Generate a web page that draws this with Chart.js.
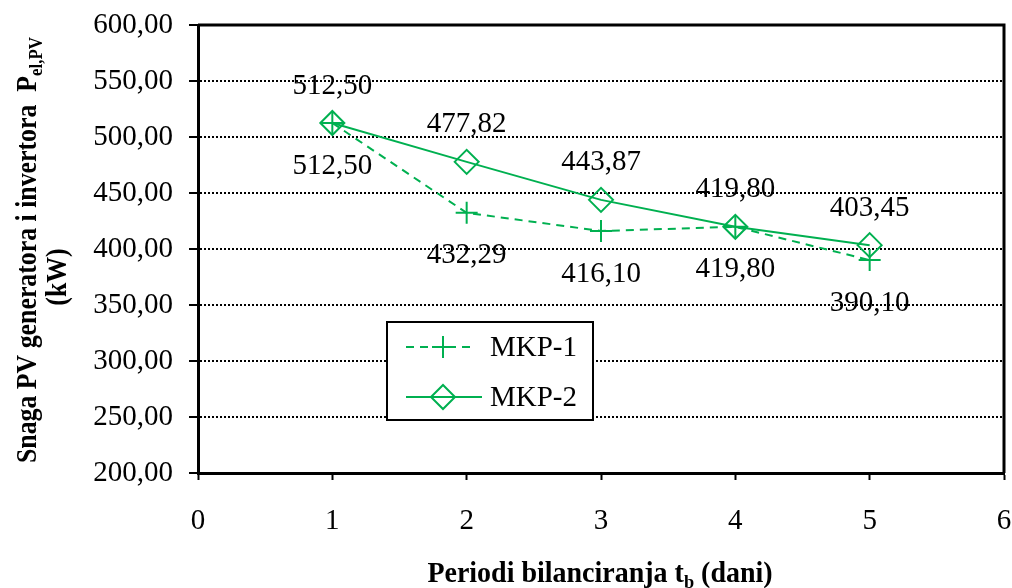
<!DOCTYPE html>
<html>
<head>
<meta charset="utf-8">
<script src="https://cdn.jsdelivr.net/npm/chart.js@4/dist/chart.umd.min.js"></script>
<style>
  html, body { margin: 0; padding: 0; background: #fff; }
  #wrap { width: 1012px; height: 588px; }
</style>
</head>
<body>
<div id="wrap"><canvas id="chart" width="1012" height="588"></canvas></div>
<script>
// podaci
const periods = [1, 2, 3, 4, 5];
const mkp1 = [512.50, 432.29, 416.10, 419.80, 390.10];
const mkp2 = [512.50, 477.82, 443.87, 419.80, 403.45];
const seriesNames = ['MKP-1', 'MKP-2'];
const yTicks = [200, 250, 300, 350, 400, 450, 500, 550, 600];

const GREEN = '#00B050';
const FONT = "'Liberation Serif', 'Times New Roman', serif";
const FS = 29;

const fmt = v => v.toFixed(2).replace('.', ',');

// oznake vrijednosti: MKP-1 ispod, MKP-2 iznad točke
const valueLabels = {
    id: 'valueLabels',
    afterDatasetsDraw(chart) {
        const ctx = chart.ctx;
        ctx.save();
        ctx.font = FS + 'px ' + FONT;
        ctx.fillStyle = '#000';
        ctx.textAlign = 'center';
        ctx.textBaseline = 'middle';
        chart.data.datasets.forEach((ds, i) => {
            const meta = chart.getDatasetMeta(i);
            meta.data.forEach((pt, j) => {
                const off = i === 0 ? 43 : -37;
                ctx.fillText(fmt(ds.data[j].y), pt.x, pt.y + off);
            });
        });
        ctx.restore();
    }
};

// okvir, legenda i naslovi osi (sa indeksima)
const frame = {
    id: 'frame',
    beforeDatasetsDraw(chart) {
        const a = chart.chartArea;
        const ctx = chart.ctx;
        ctx.save();
        ctx.strokeStyle = '#000';
        ctx.lineWidth = 3;
        ctx.beginPath();
        ctx.moveTo(a.left, a.top);
        ctx.lineTo(a.right, a.top);
        ctx.lineTo(a.right, a.bottom);
        ctx.stroke();
        ctx.restore();
    },
    afterDraw(chart) {
        const ctx = chart.ctx;
        ctx.save();

        // legenda
        ctx.fillStyle = '#fff';
        ctx.fillRect(387, 322, 206, 98);
        ctx.strokeStyle = '#000';
        ctx.lineWidth = 2;
        ctx.strokeRect(387, 322, 206, 98);

        const rows = [347, 397];
        chart.data.datasets.forEach((ds, i) => {
            const y = rows[i];
            ctx.strokeStyle = GREEN;
            ctx.lineWidth = 2;
            ctx.setLineDash(i === 0 ? [8, 6] : []);
            ctx.beginPath();
            ctx.moveTo(406, y);
            ctx.lineTo(i === 0 ? 476 : 482, y);
            ctx.stroke();
            ctx.setLineDash([]);
            ctx.fillStyle = 'rgba(0,0,0,0)';
            Chart.helpers.drawPoint(ctx, {
                pointStyle: ds.pointStyle,
                radius: ds.pointRadius,
                rotation: 0,
                borderWidth: 2
            }, 443, y);
            ctx.fillStyle = '#000';
            ctx.font = FS + 'px ' + FONT;
            ctx.textAlign = 'left';
            ctx.textBaseline = 'middle';
            ctx.fillText(seriesNames[i], 490, y + 1);
        });

        // naslov x osi
        ctx.fillStyle = '#000';
        ctx.textBaseline = 'alphabetic';
        const bold = 'bold ' + FS + 'px ' + FONT;
        const sub = 'bold 19px ' + FONT;
        ctx.save();
        ctx.translate(600, 582);
        ctx.scale(0.965, 1);
        drawParts(ctx, [
            ['Periodi bilanciranja t', bold, 0],
            ['b', sub, 6],
            [' (dani)', bold, 0]
        ], 0, 0);
        ctx.restore();

        // naslov y osi (tekst je u originalu sabijen po duljini)
        ctx.save();
        ctx.translate(36, 250);
        ctx.rotate(-Math.PI / 2);
        ctx.scale(0.89, 1);
        drawParts(ctx, [
            ['Snaga PV generatora i invertora  P', bold, 0],
            ['el,PV', sub, 6]
        ], 0, 0);
        ctx.restore();
        ctx.save();
        ctx.translate(66, 277);
        ctx.rotate(-Math.PI / 2);
        ctx.scale(0.89, 1);
        ctx.font = bold;
        ctx.textAlign = 'center';
        ctx.fillText('(kW)', 0, 0);
        ctx.restore();

        ctx.restore();
    }
};

function drawParts(ctx, parts, cx, baseY) {
    let total = 0;
    parts.forEach(p => { ctx.font = p[1]; total += ctx.measureText(p[0]).width; });
    let x = cx - total / 2;
    ctx.textAlign = 'left';
    parts.forEach(p => {
        ctx.font = p[1];
        ctx.fillText(p[0], x, baseY + p[2]);
        x += ctx.measureText(p[0]).width;
    });
}

const toPoints = arr => arr.map((v, i) => ({ x: periods[i], y: v }));

new Chart(document.getElementById('chart'), {
    type: 'scatter',
    data: {
        datasets: [
            {
                label: seriesNames[0],
                data: toPoints(mkp1),
                showLine: true,
                borderColor: GREEN,
                backgroundColor: 'transparent',
                borderWidth: 2,
                borderDash: [8, 6],
                pointStyle: 'cross',
                pointRadius: 11,
                pointBorderWidth: 2,
                pointBorderColor: GREEN
            },
            {
                label: seriesNames[1],
                data: toPoints(mkp2),
                showLine: true,
                borderColor: GREEN,
                backgroundColor: 'transparent',
                borderWidth: 2,
                pointStyle: 'rectRot',
                pointRadius: 12,
                pointBorderWidth: 2,
                pointBorderColor: GREEN,
                pointBackgroundColor: 'transparent'
            }
        ]
    },
    options: {
        responsive: false,
        animation: false,
        layout: { autoPadding: false, padding: { top: 25, right: 8, left: 0, bottom: 0 } },
        plugins: {
            legend: { display: false },
            tooltip: { enabled: false }
        },
        scales: {
            x: {
                type: 'linear',
                min: 0,
                max: 6,
                afterFit(scale) {
                    scale.height = 115;
                    scale.paddingLeft = 0;
                    scale.paddingRight = 0;
                },
                ticks: {
                    stepSize: 1,
                    color: '#000',
                    font: { family: FONT, size: FS },
                    padding: 24
                },
                grid: {
                    drawOnChartArea: false,
                    drawTicks: true,
                    tickLength: 7,
                    tickWidth: 2,
                    tickColor: '#000'
                },
                border: { display: true, color: '#000', width: 3 }
            },
            y: {
                min: 200,
                max: 600,
                afterFit(scale) {
                    scale.width = 198;
                    scale.paddingTop = 0;
                    scale.paddingBottom = 0;
                },
                afterBuildTicks(scale) { scale.ticks = yTicks.map(v => ({ value: v })); },
                ticks: {
                    color: '#000',
                    font: { family: FONT, size: FS },
                    padding: 16,
                    callback: v => fmt(v)
                },
                grid: {
                    color: '#000',
                    lineWidth: 2,
                    drawTicks: true,
                    tickLength: 9,
                    tickWidth: 2,
                    tickColor: '#000',
                    tickBorderDash: []
                },
                border: { display: true, color: '#000', width: 3, dash: [2, 2] }
            }
        }
    },
    plugins: [frame, valueLabels]
});
</script>
</body>
</html>
